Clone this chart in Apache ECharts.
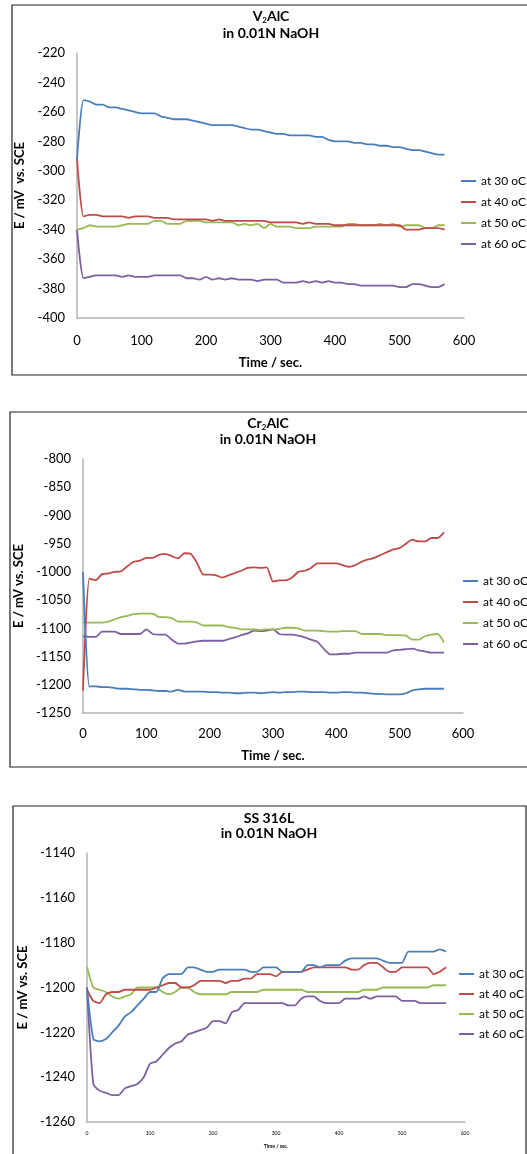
<!DOCTYPE html>
<html>
<head>
<meta charset="utf-8">
<script src="https://cdn.jsdelivr.net/npm/echarts@6/dist/echarts.min.js"></script>
<style>
html,body{margin:0;padding:0;background:#fff;}
#c{width:527px;height:1154px;}
</style>
</head>
<body>
<div id="c"></div>
<script>
// Time axis (s)
const time = [0,10,20,30,40,50,60,70,80,90,100,110,120,130,140,150,160,170,180,190,200,210,220,230,240,250,260,270,280,290,300,310,320,330,340,350,360,370,380,390,400,410,420,430,440,450,460,470,480,490,500,510,520,530,540,550,560,570];
const seriesNames = ['at 30 oC','at 40 oC','at 50 oC','at 60 oC'];
const xTicks = [0,100,200,300,400,500,600];

// V2AlC in 0.01N NaOH
const v2alc_30 = [-292,-252,-253,-255,-255,-257,-257,-258,-259,-260,-261,-261,-261,-263,-264,-265,-265,-265,-266,-267,-268,-269,-269,-269,-269,-270,-271,-272,-272,-273,-274,-275,-275,-276,-276,-276,-276,-277,-277,-279,-280,-280,-280,-281,-281,-282,-282,-283,-283,-284,-284,-285,-286,-286,-287,-288,-289,-289];
const v2alc_40 = [-292,-331,-330,-330,-331,-331,-331,-331,-332,-331,-331,-331,-332,-332,-332,-333,-333,-333,-333,-333,-333,-334,-333,-334,-334,-334,-334,-334,-334,-334,-335,-335,-335,-335,-335,-336,-335,-336,-336,-336,-337,-337,-337,-337,-337,-337,-337,-337,-337,-337,-337,-340,-340,-340,-339,-339,-339,-340];
const v2alc_50 = [-340,-339,-337,-338,-338,-338,-338,-337,-336,-336,-336,-336,-334,-334,-336,-336,-336,-334,-334,-334,-335,-335,-335,-335,-335,-337,-336,-337,-336,-339,-336,-338,-338,-338,-339,-339,-339,-338,-338,-338,-338,-338,-336,-336,-337,-337,-337,-336,-337,-336,-338,-337,-337,-337,-339,-339,-337,-337];
const v2alc_60 = [-340,-373,-372,-371,-371,-371,-371,-372,-371,-372,-372,-372,-371,-371,-371,-371,-371,-373,-373,-374,-372,-374,-373,-374,-373,-374,-374,-374,-375,-374,-374,-374,-376,-376,-376,-375,-376,-375,-376,-375,-376,-376,-377,-377,-378,-378,-378,-378,-378,-378,-379,-379,-377,-377,-378,-379,-379,-377];

// Cr2AlC in 0.01N NaOH
const cr2alc_30 = [-1000,-1203,-1203,-1204,-1204,-1206,-1207,-1207,-1208,-1209,-1209,-1210,-1211,-1211,-1212,-1209,-1212,-1212,-1212,-1212,-1213,-1213,-1214,-1214,-1215,-1215,-1214,-1214,-1215,-1214,-1213,-1214,-1213,-1213,-1212,-1212,-1213,-1213,-1213,-1214,-1214,-1213,-1213,-1214,-1214,-1215,-1216,-1216,-1217,-1217,-1217,-1215,-1210,-1208,-1207,-1207,-1207,-1207];
const cr2alc_40 = [-1210,-1012,-1015,-1004,-1003,-1000,-999,-990,-982,-980,-975,-975,-970,-968,-972,-976,-967,-968,-984,-1005,-1005,-1006,-1010,-1006,-1002,-998,-993,-992,-993,-992,-1017,-1015,-1015,-1010,-1000,-998,-993,-985,-985,-985,-985,-988,-991,-988,-982,-978,-975,-970,-965,-960,-958,-950,-943,-946,-946,-940,-940,-930];
const cr2alc_50 = [-1090,-1090,-1090,-1090,-1088,-1084,-1080,-1078,-1075,-1074,-1074,-1074,-1080,-1080,-1082,-1088,-1088,-1088,-1090,-1095,-1095,-1095,-1095,-1098,-1099,-1102,-1102,-1102,-1103,-1102,-1102,-1101,-1099,-1099,-1100,-1104,-1104,-1104,-1105,-1106,-1106,-1105,-1105,-1105,-1110,-1110,-1110,-1110,-1112,-1112,-1112,-1113,-1120,-1120,-1114,-1111,-1110,-1125];
const cr2alc_60 = [-1114,-1115,-1115,-1106,-1106,-1106,-1110,-1110,-1110,-1110,-1102,-1110,-1111,-1111,-1120,-1127,-1127,-1125,-1123,-1122,-1122,-1122,-1122,-1119,-1116,-1112,-1109,-1104,-1105,-1104,-1102,-1110,-1111,-1111,-1113,-1116,-1120,-1124,-1136,-1146,-1146,-1145,-1145,-1143,-1143,-1143,-1143,-1143,-1143,-1139,-1138,-1137,-1136,-1139,-1141,-1143,-1143,-1143];

// SS 316L in 0.01N NaOH
const ss316_30 = [-1200,-1223,-1224,-1223,-1220,-1217,-1213,-1211,-1208,-1205,-1202,-1202,-1196,-1194,-1194,-1194,-1191,-1191,-1192,-1193,-1193,-1192,-1192,-1192,-1192,-1192,-1193,-1193,-1191,-1191,-1191,-1193,-1193,-1193,-1193,-1190,-1190,-1191,-1190,-1190,-1190,-1188,-1187,-1187,-1187,-1187,-1187,-1188,-1189,-1189,-1189,-1184,-1184,-1184,-1184,-1184,-1183,-1184];
const ss316_40 = [-1201,-1206,-1207,-1203,-1202,-1202,-1201,-1201,-1201,-1201,-1201,-1200,-1199,-1198,-1198,-1200,-1200,-1199,-1197,-1197,-1197,-1197,-1198,-1197,-1197,-1196,-1196,-1194,-1194,-1194,-1195,-1193,-1193,-1193,-1193,-1192,-1191,-1191,-1191,-1191,-1191,-1191,-1192,-1192,-1190,-1189,-1189,-1191,-1193,-1193,-1191,-1191,-1191,-1191,-1191,-1194,-1193,-1191];
const ss316_50 = [-1191,-1200,-1201,-1202,-1204,-1205,-1204,-1203,-1200,-1200,-1200,-1200,-1202,-1203,-1202,-1200,-1200,-1202,-1203,-1203,-1203,-1203,-1203,-1202,-1202,-1202,-1202,-1202,-1201,-1201,-1201,-1201,-1201,-1201,-1201,-1202,-1202,-1202,-1202,-1202,-1202,-1202,-1202,-1202,-1201,-1201,-1201,-1200,-1200,-1200,-1200,-1200,-1200,-1200,-1200,-1199,-1199,-1199];
const ss316_60 = [-1200,-1243,-1246,-1247,-1248,-1248,-1245,-1244,-1243,-1240,-1234,-1233,-1230,-1227,-1225,-1224,-1221,-1220,-1219,-1218,-1215,-1215,-1216,-1211,-1210,-1207,-1207,-1207,-1207,-1207,-1207,-1207,-1208,-1208,-1205,-1204,-1204,-1206,-1207,-1207,-1207,-1205,-1205,-1205,-1204,-1205,-1204,-1204,-1204,-1204,-1206,-1206,-1206,-1207,-1207,-1207,-1207,-1207];

const colors = ['#4A7EBB','#BE4B48','#98B954','#7D60A0'];
const FONT = 'Lato';

const panels = [
  {main:'V', sub:'2', rest:'AlC', data:[v2alc_30,v2alc_40,v2alc_50,v2alc_60], min:-400, max:-220, step:20,
   grid:{left:77, top:53, width:387, height:265}, titleX:271, titleY:[16,33],
   legend:{left:456, top:169, gap:7}, yName:'E / mV  vs. SCE', yGap:43, xGap:38, xLabelMargin:16, xFont:13, xNameFont:13, frame:[12,5,540,370]},
  {main:'Cr', sub:'2', rest:'AlC', data:[cr2alc_30,cr2alc_40,cr2alc_50,cr2alc_60], min:-1250, max:-800, step:50,
   grid:{left:83, top:459, width:380, height:254}, titleX:268, titleY:[423,439],
   legend:{left:458, top:569, gap:7}, yName:'E / mV vs. SCE', yGap:48, xGap:36, xLabelMargin:14, xFont:13, xNameFont:13, frame:[10,412,540,355]},
  {main:'SS 316L', sub:'', rest:'', data:[ss316_30,ss316_40,ss316_50,ss316_60], min:-1260, max:-1140, step:20,
   grid:{left:87, top:853, width:378, height:269}, titleX:269, titleY:[818,833],
   legend:{left:454, top:962, gap:6}, yName:'E / mV vs. SCE', yGap:47, xGap:22, xLabelMargin:9, xFont:5, xNameFont:5, frame:[13,806,513,400]}
];

const grids=[], xAxes=[], yAxes=[], series=[], legends=[], graphics=[];
panels.forEach((p,i)=>{
  grids.push(Object.assign({containLabel:false}, p.grid));
  xAxes.push({type:'value', gridIndex:i, min:xTicks[0], max:xTicks[xTicks.length-1], interval:100,
    name:'Time / sec.', nameLocation:'middle', nameGap:p.xGap,
    nameTextStyle:{fontFamily:FONT, fontWeight:'bold', fontSize:p.xNameFont, color:'#000'},
    axisLine:{show:true, lineStyle:{color:'#B3B3B3', width:1.5}},
    axisTick:{show:false}, splitLine:{show:false},
    axisLabel:{fontFamily:FONT, fontSize:p.xFont, color:'#000', margin:p.xLabelMargin, formatter:v=>String(v)}});
  yAxes.push({type:'value', gridIndex:i, min:p.min, max:p.max, interval:p.step,
    name:p.yName, nameLocation:'middle', nameGap:p.yGap, nameRotate:90,
    nameTextStyle:{fontFamily:FONT, fontWeight:'bold', fontSize:13, color:'#000'},
    axisLine:{show:true, onZero:false, lineStyle:{color:'#B3B3B3', width:1.5}},
    axisTick:{show:false}, splitLine:{show:false},
    axisLabel:{fontFamily:FONT, fontSize:13, color:'#000', margin:12, formatter:v=>String(v)}});
  p.data.forEach((arr,k)=>{
    series.push({type:'line', name:seriesNames[k], xAxisIndex:i, yAxisIndex:i,
      data: time.map((t,j)=>[t, arr[j]]), showSymbol:false, symbol:'none', smooth:0.2,
      color:colors[k], lineStyle:{color:colors[k], width:1.8}, z:10-k, animation:false});
  });
  legends.push({orient:'vertical', left:p.legend.left, top:p.legend.top, itemGap:p.legend.gap,
    itemWidth:15, itemHeight:2, icon:'rect', data:seriesNames, selectedMode:false,
    textStyle:{fontFamily:FONT, fontSize:12, color:'#000', lineHeight:14}});
  graphics.push({type:'rect', shape:{x:p.frame[0], y:p.frame[1], width:p.frame[2], height:p.frame[3]},
    style:{fill:'none', stroke:'#222', lineWidth:1.2}, z:0});
  graphics.push({type:'text', x:p.titleX, y:p.titleY[0], style:{
    text: p.sub ? '{b|'+p.main+'}{s|'+p.sub+'}{b|'+p.rest+'}' : '{b|'+p.main+'}',
    rich:{b:{fontFamily:FONT, fontWeight:'bold', fontSize:14, lineHeight:16, fill:'#000'},
          s:{fontFamily:FONT, fontWeight:'bold', fontSize:8, lineHeight:16, verticalAlign:'bottom', fill:'#000'}},
    align:'center', verticalAlign:'middle'}, z:5});
  graphics.push({type:'text', x:p.titleX, y:p.titleY[1], style:{
    text:'in 0.01N NaOH', font:'bold 14px '+FONT, fill:'#000', align:'center', verticalAlign:'middle'}, z:5});
});

const chart = echarts.init(document.getElementById('c'), null, {renderer:'canvas'});
chart.setOption({
  animation:false,
  backgroundColor:'#fff',
  grid:grids, xAxis:xAxes, yAxis:yAxes, series:series, legend:legends, graphic:graphics
});
</script>
</body>
</html>
